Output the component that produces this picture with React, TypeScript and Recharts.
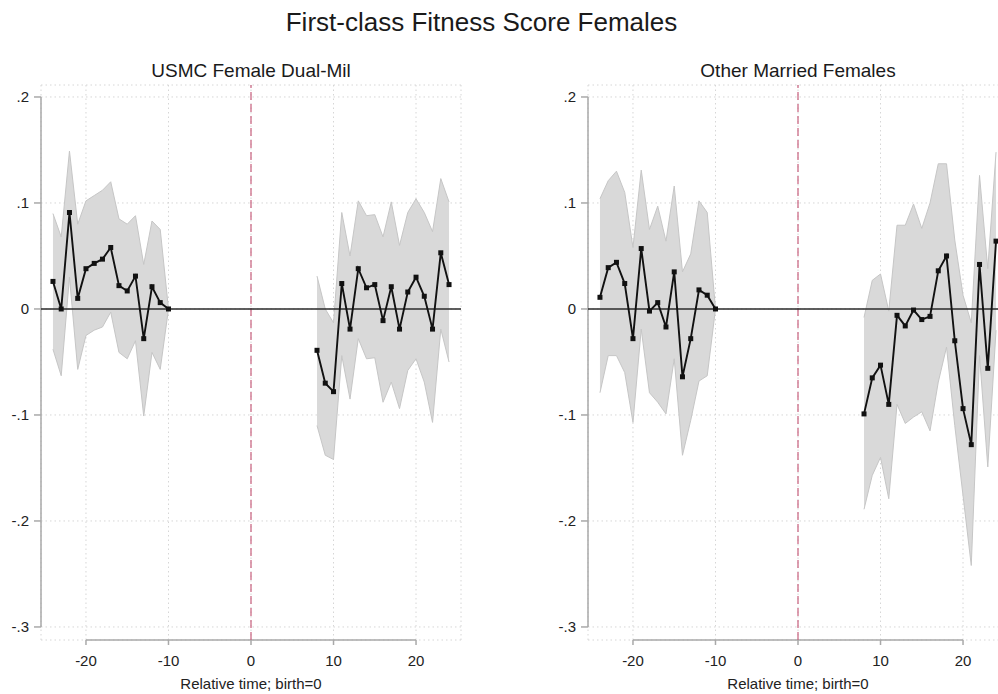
import React from 'react';
import {
  ComposedChart,
  Area,
  Line,
  XAxis,
  YAxis,
  CartesianGrid,
  ReferenceLine,
} from 'recharts';

// ---- data ----
const timePre = [-24, -23, -22, -21, -20, -19, -18, -17, -16, -15, -14, -13, -12, -11, -10];
const timePost = [8, 9, 10, 11, 12, 13, 14, 15, 16, 17, 18, 19, 20, 21, 22, 23, 24];

const usmcPreEst = [0.026, 0.0, 0.091, 0.01, 0.038, 0.043, 0.047, 0.058, 0.022, 0.017, 0.031, -0.028, 0.021, 0.006, 0.0];
const usmcPreHi = [0.09, 0.068, 0.149, 0.08, 0.102, 0.107, 0.112, 0.12, 0.085, 0.08, 0.088, 0.042, 0.083, 0.075, 0.0];
const usmcPreLo = [-0.038, -0.063, 0.03, -0.057, -0.025, -0.02, -0.017, -0.003, -0.041, -0.047, -0.03, -0.101, -0.041, -0.057, 0.0];

const usmcPostEst = [-0.039, -0.07, -0.078, 0.024, -0.019, 0.038, 0.02, 0.023, -0.011, 0.021, -0.019, 0.016, 0.03, 0.012, -0.019, 0.053, 0.023];
const usmcPostHi = [0.031, 0.0, -0.013, 0.091, 0.05, 0.102, 0.088, 0.089, 0.068, 0.101, 0.06, 0.091, 0.104, 0.091, 0.073, 0.123, 0.101];
const usmcPostLo = [-0.11, -0.138, -0.142, -0.044, -0.085, -0.028, -0.047, -0.046, -0.088, -0.069, -0.094, -0.058, -0.047, -0.069, -0.107, -0.019, -0.05];

const otherPreEst = [0.011, 0.039, 0.044, 0.024, -0.028, 0.057, -0.002, 0.006, -0.017, 0.035, -0.064, -0.028, 0.018, 0.013, 0.0];
const otherPreHi = [0.104, 0.121, 0.13, 0.11, 0.058, 0.131, 0.075, 0.097, 0.064, 0.116, 0.035, 0.052, 0.102, 0.091, 0.0];
const otherPreLo = [-0.079, -0.044, -0.044, -0.06, -0.107, -0.019, -0.079, -0.088, -0.099, -0.047, -0.138, -0.105, -0.068, -0.063, 0.0];

const otherPostEst = [-0.099, -0.065, -0.053, -0.09, -0.006, -0.016, -0.001, -0.01, -0.007, 0.036, 0.05, -0.03, -0.094, -0.128, 0.042, -0.056, 0.064];
const otherPostHi = [-0.008, 0.027, 0.033, -0.002, 0.079, 0.079, 0.099, 0.076, 0.1, 0.137, 0.137, 0.065, 0.013, -0.013, 0.126, 0.038, 0.148];
const otherPostLo = [-0.189, -0.157, -0.14, -0.179, -0.09, -0.108, -0.102, -0.097, -0.115, -0.069, -0.036, -0.11, -0.176, -0.242, -0.044, -0.149, -0.02];

const xTicks = [-20, -10, 0, 10, 20];
const yTicks = [-0.3, -0.2, -0.1, 0, 0.1, 0.2];

const mainTitle = 'First-class Fitness Score Females';
const panelTitles = ['USMC Female Dual-Mil', 'Other Married Females'];
const xTitle = 'Relative time; birth=0';

// ---- helpers ----
type Row = { t: number; est: number | null; band: (number | null)[] };

const rows = (time: number[], est: number[], lo: number[], hi: number[]): Row[] =>
  time.map((t, i) => ({ t, est: est[i], band: [lo[i], hi[i]] }));

const buildData = (
  pe: number[], pl: number[], ph: number[],
  qe: number[], ql: number[], qh: number[]
): Row[] => [
  ...rows(timePre, pe, pl, ph),
  { t: 0, est: null, band: [null, null] },
  ...rows(timePost, qe, ql, qh),
];

const usmcData = buildData(usmcPreEst, usmcPreLo, usmcPreHi, usmcPostEst, usmcPostLo, usmcPostHi);
const otherData = buildData(otherPreEst, otherPreLo, otherPreHi, otherPostEst, otherPostLo, otherPostHi);

const X_MIN = -25.45;
const X_MAX = 25.45;
const Y_MIN = -0.3123;
const Y_MAX = 0.2113;

const fmtY = (v: number) => {
  if (Math.abs(v) < 1e-9) return '0';
  const s = Math.abs(v).toFixed(1).replace(/^0/, '');
  return (v < 0 ? '-' : '') + s;
};

const SquareDot = (props: any) => {
  const { cx, cy, index, payload } = props;
  if (cx == null || cy == null || payload == null || payload.est == null || isNaN(cy)) {
    return <g key={`n${index}`} />;
  }
  return <rect key={`d${index}`} x={cx - 2.5} y={cy - 2.5} width={5} height={5} fill="#111" />;
};

const FONT = '"Liberation Sans", Arial, Helvetica, sans-serif';
const AXIS_GRAY = '#a9a9a9';

const Panel = ({ data, left, title }: { data: Row[]; left: number; title: string }) => (
  <div style={{ position: 'absolute', left, top: 0, width: 480, height: 694 }}>
    <div
      style={{
        position: 'absolute',
        left: 41,
        width: 420,
        top: 61,
        textAlign: 'center',
        fontSize: 19,
        lineHeight: '20px',
        color: '#1a1a1a',
        whiteSpace: 'nowrap',
      }}
    >
      {title}
    </div>
    <ComposedChart
      width={480}
      height={694}
      data={data}
      margin={{ top: 85, right: 19, bottom: 24, left: 0 }}
    >
      <Area
        dataKey="band"
        type="linear"
        fill="#d9d9d9"
        fillOpacity={1}
        stroke="#c6c6c6"
        strokeWidth={1}
        dot={false}
        activeDot={false}
        isAnimationActive={false}
      />
      <CartesianGrid stroke="#d6d6d6" strokeDasharray="1.5 3" strokeWidth={1} />
      <XAxis
        dataKey="t"
        type="number"
        domain={[X_MIN, X_MAX]}
        allowDataOverflow
        ticks={xTicks}
        axisLine={false}
        tickLine={{ stroke: AXIS_GRAY, strokeWidth: 1.5 }}
        tickSize={5}
        tickMargin={10}
        height={30}
        tick={{ fill: '#222', fontSize: 15 }}
        interval={0}
      />
      <YAxis
        type="number"
        domain={[Y_MIN, Y_MAX]}
        allowDataOverflow
        ticks={yTicks}
        tickFormatter={fmtY}
        axisLine={false}
        tickLine={{ stroke: AXIS_GRAY, strokeWidth: 1.5 }}
        tickSize={7}
        tickMargin={5}
        width={41}
        tick={{ fill: '#222', fontSize: 15 }}
        interval={0}
      />
      <ReferenceLine
        segment={[{ x: X_MIN, y: -0.3 }, { x: X_MIN, y: 0.2 }]}
        stroke={AXIS_GRAY}
        strokeWidth={1.5}
        ifOverflow="visible"
      />
      <ReferenceLine
        segment={[{ x: -20, y: Y_MIN }, { x: 20, y: Y_MIN }]}
        stroke={AXIS_GRAY}
        strokeWidth={1.5}
        ifOverflow="visible"
      />
      <ReferenceLine x={0} stroke="#c8607e" strokeWidth={1.2} strokeDasharray="8 4" ifOverflow="visible" />
      <ReferenceLine y={0} stroke="#2a2a2a" strokeWidth={1.6} ifOverflow="visible" />
      <Line
        dataKey="est"
        type="linear"
        stroke="#111"
        strokeWidth={1.9}
        dot={SquareDot}
        activeDot={false}
        connectNulls={false}
        isAnimationActive={false}
      />
    </ComposedChart>
    <div
      style={{
        position: 'absolute',
        left: 41,
        width: 420,
        top: 676,
        textAlign: 'center',
        fontSize: 15,
        lineHeight: '16px',
        color: '#222',
        whiteSpace: 'nowrap',
      }}
    >
      {xTitle}
    </div>
  </div>
);

export default function App() {
  return (
    <div
      style={{
        position: 'absolute',
        left: 0,
        top: 0,
        width: 998,
        height: 694,
        overflow: 'hidden',
        background: '#fff',
        fontFamily: FONT,
      }}
    >
      <div
        style={{
          position: 'absolute',
          left: 0,
          width: 963,
          top: 8,
          textAlign: 'center',
          fontSize: 26,
          lineHeight: '28px',
          color: '#1a1a1a',
          whiteSpace: 'nowrap',
        }}
      >
        {mainTitle}
      </div>
      <Panel data={usmcData} left={0} title={panelTitles[0]} />
      <Panel data={otherData} left={547} title={panelTitles[1]} />
    </div>
  );
}
